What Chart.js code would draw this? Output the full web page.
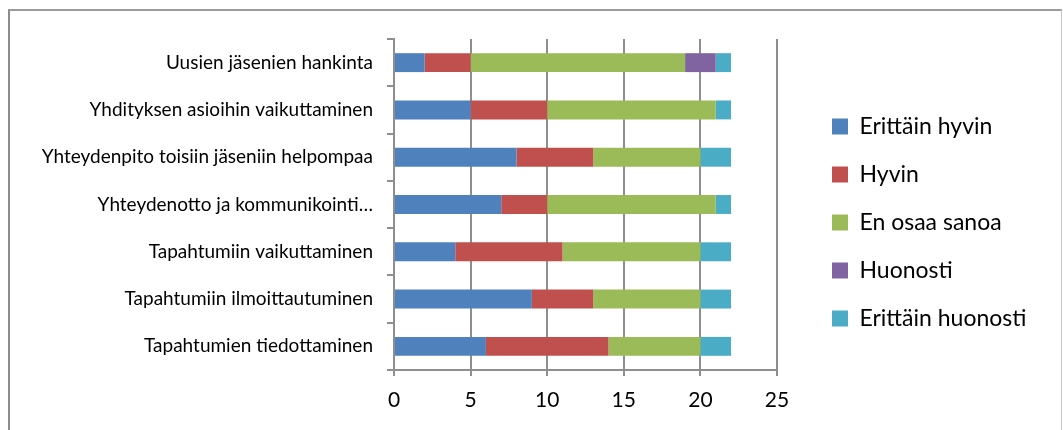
<!DOCTYPE html>
<html>
<head>
<meta charset="utf-8">
<script src="https://cdn.jsdelivr.net/npm/chart.js@4.4.1/dist/chart.umd.min.js"></script>
<style>
  html, body { margin: 0; padding: 0; background: #fff; }
  #wrap { position: relative; width: 1063px; height: 430px; overflow: hidden; }
  #frame {
    position: absolute; left: 8px; top: 9px; width: 1051px; height: 440px;
    border-top: 2px solid #9b9b9b; border-left: 2px solid #8c8c8c; border-right: 1px solid #c8c8c8;
  }
  canvas { position: absolute; left: 0; top: 0; }
</style>
</head>
<body>
<div id="wrap">
  <div id="frame"></div>
  <canvas id="c" width="1063" height="430"></canvas>
</div>
<script>
// Vastaukset kysymyksittäin (kpl)
const categories = [
  'Uusien jäsenien hankinta',
  'Yhdityksen asioihin vaikuttaminen',
  'Yhteydenpito toisiin jäseniin helpompaa',
  'Yhteydenotto ja kommunikointi…',
  'Tapahtumiin vaikuttaminen',
  'Tapahtumiin ilmoittautuminen',
  'Tapahtumien tiedottaminen'
];
const erittainHyvin    = [2, 5, 8, 7, 4, 9, 6];
const hyvin            = [3, 5, 5, 3, 7, 4, 8];
const enOsaaSanoa      = [14, 11, 7, 11, 9, 7, 6];
const huonosti         = [2, 0, 0, 0, 0, 0, 0];
const erittainHuonosti = [1, 1, 2, 1, 2, 2, 2];
const xMin = 0, xMax = 25, xStep = 5;

const GRID = '#8e8e8e';
const LEGEND_W = 286;   // tila oikealla selitteelle
const LEGEND_GAP = 55;  // akselin pää -> selitteen ruutu
const LEGEND_DY = -12;  // selite hieman ylemmäs

Chart.defaults.font.family = 'Lato, "Open Sans", sans-serif';
Chart.defaults.color = '#000';

// selite kiinteän levyiseksi ja hieman irti kuvaajasta
const legendPlace = {
  id: 'legendPlace',
  beforeInit(chart) {
    const lg = chart.legend;
    const fit = lg.fit;
    lg.fit = function () { fit.call(this); this.width = LEGEND_W; };
  },
  afterLayout(chart) {
    const lg = chart.legend;
    const dx = LEGEND_GAP - lg.options.labels.padding;
    lg.left += dx; lg.right += dx;
    lg.top += LEGEND_DY; lg.bottom += LEGEND_DY;
  }
};

const series = [
  { label: 'Erittäin hyvin', data: erittainHyvin, color: '#4F81BD' },
  { label: 'Hyvin', data: hyvin, color: '#C0504D' },
  { label: 'En osaa sanoa', data: enOsaaSanoa, color: '#9BBB59' },
  { label: 'Huonosti', data: huonosti, color: '#8064A2' },
  { label: 'Erittäin huonosti', data: erittainHuonosti, color: '#4BACC6' }
];

new Chart(document.getElementById('c'), {
  type: 'bar',
  data: {
    labels: categories,
    datasets: series.map(s => ({
      label: s.label,
      data: s.data,
      backgroundColor: s.color,
      borderWidth: 0,
      barPercentage: 0.4,
      categoryPercentage: 1
    }))
  },
  options: {
    indexAxis: 'y',
    responsive: false,
    devicePixelRatio: 1,
    animation: false,
    layout: { padding: { top: 39, right: 0, bottom: 0, left: 0 } },
    plugins: {
      tooltip: { enabled: false },
      legend: {
        position: 'right',
        labels: { boxWidth: 16, boxHeight: 16, padding: 25, font: { size: 23 }, color: '#000' }
      }
    },
    scales: {
      x: {
        stacked: true,
        min: xMin,
        max: xMax,
        ticks: { stepSize: xStep, font: { size: 21 }, padding: 12, color: '#000' },
        grid: { color: GRID, lineWidth: 2, tickLength: 6 },
        border: { color: GRID, width: 2 },
        afterFit(scale) { scale.height = 60; }
      },
      y: {
        stacked: true,
        ticks: { font: { size: 19 }, padding: 14, color: '#000', autoSkip: false },
        grid: { drawOnChartArea: false, color: GRID, lineWidth: 2, tickLength: 7, offset: true },
        border: { color: GRID, width: 2 },
        afterFit(scale) { scale.width = 394; }
      }
    }
  },
  plugins: [legendPlace]
});
</script>
</body>
</html>
